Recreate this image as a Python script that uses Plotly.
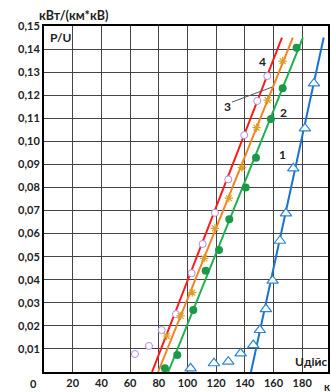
import plotly.graph_objects as go

# fitted lines (endpoints)
line4_x = [75.3, 165.9]
line4_y = [0.0, 0.145]
line3_x = [79.5, 173.5]
line3_y = [0.0, 0.145]
line2_x = [86.6, 180.5]
line2_y = [0.0, 0.145]
line1_x = [144.3, 195.0]
line1_y = [0.0, 0.145]

# measured points
pts4_x = [63.4, 73.2, 82.0, 92.0, 102.9, 110.6, 119.2, 128.5, 139.6, 148.7, 155.7]
pts4_y = [0.0078, 0.0113, 0.0182, 0.0251, 0.0428, 0.0555, 0.0690, 0.0835, 0.1027, 0.1175, 0.1283]
pts3_x = [85.5, 95.3, 103.4, 111.7, 119.2, 128.9, 138.0, 148.2, 155.9, 166.4]
pts3_y = [0.0156, 0.0243, 0.0344, 0.0493, 0.0623, 0.0754, 0.0886, 0.1059, 0.1179, 0.1348]
pts2_x = [84.3, 92.9, 104.1, 112.7, 122.0, 129.2, 140.6, 147.8, 158.2, 166.4, 176.1]
pts2_y = [0.0016, 0.0074, 0.0269, 0.0439, 0.0529, 0.0662, 0.0800, 0.0929, 0.1097, 0.1230, 0.1406]
pts1_x = [102.2, 118.5, 128.5, 137.1, 145.9, 150.5, 154.7, 159.4, 164.5, 168.7, 173.8, 181.9, 188.2]
pts1_y = [0.0016, 0.0038, 0.0045, 0.0081, 0.0117, 0.0182, 0.0273, 0.0396, 0.0569, 0.0688, 0.0883, 0.1056, 0.1251]

x_ticks = [20, 40, 60, 80, 100, 120, 140, 160, 180]
y_ticks = [0.01, 0.02, 0.03, 0.04, 0.05, 0.06, 0.07, 0.08, 0.09, 0.10, 0.11, 0.12, 0.13, 0.14, 0.15]
y_ticktext = ["0,01", "0,02", "0,03", "0,04", "0,05", "0,06", "0,07", "0,08", "0,09", "0,10",
              "0,11", "0,12", "0,13", "0,14", "0,15"]

FONT = "Lato"
W, H = 331, 392
L, R, T, B = 44, 3, 26, 20
pw, ph = W - L - R, H - T - B

RED = "#FF1A1A"
ORANGE = "#F58220"
GREEN = "#1DB24B"
BLUE = "#1874CD"

fig = go.Figure()
fig.add_trace(go.Scatter(x=line4_x, y=line4_y, mode="lines", line=dict(color=RED, width=2)))
fig.add_trace(go.Scatter(x=line3_x, y=line3_y, mode="lines", line=dict(color=ORANGE, width=2)))
fig.add_trace(go.Scatter(x=line2_x, y=line2_y, mode="lines", line=dict(color=GREEN, width=2)))
fig.add_trace(go.Scatter(x=line1_x, y=line1_y, mode="lines", line=dict(color=BLUE, width=2)))

fig.add_trace(go.Scatter(x=pts4_x, y=pts4_y, mode="markers",
                         marker=dict(symbol="circle", size=7, color="white",
                                     line=dict(color="#B08CDC", width=1))))
fig.add_trace(go.Scatter(x=pts3_x, y=pts3_y, mode="markers",
                         marker=dict(symbol="asterisk-open", size=7, color="#D9A024",
                                     line=dict(color="#D9A024", width=1.2))))
fig.add_trace(go.Scatter(x=pts2_x, y=pts2_y, mode="markers",
                         marker=dict(symbol="circle", size=8, color="#1A9A48",
                                     line=dict(color="#1A9A48", width=0))))
fig.add_trace(go.Scatter(x=pts1_x, y=pts1_y, mode="markers",
                         marker=dict(symbol="triangle-up", size=10, color="white",
                                     line=dict(color="#2E86D0", width=1.2))))

# leader line for label 3
fig.add_shape(type="line", x0=131, y0=0.117, x1=159, y1=0.1235,
              line=dict(color="#555555", width=1))

ann_font = dict(family=FONT, size=11, color="#222222")
labels = [("4", 152.6, 0.1348), ("3", 128.0, 0.1153), ("2", 167.3, 0.1127),
          ("1", 166.6, 0.0945), ("P/U", 11.5, 0.1448), ("Uдійс", 186.5, 0.0045)]
for t, x, y in labels:
    fig.add_annotation(x=x, y=y, text="<b>%s</b>" % t, showarrow=False,
                       font=dict(family=FONT, size=12, color="#222222"),
                       xref="x", yref="y", xanchor="center", yanchor="middle")


def pix_ann(text, px, py, anchor="center", size=11):
    fig.add_annotation(x=(px - L) / pw, y=1 - (py - T) / ph, xref="paper", yref="paper",
                       text="<b>%s</b>" % text, showarrow=False,
                       font=dict(family=FONT, size=size, color="#222222"),
                       xanchor=anchor, yanchor="middle")


pix_ann("кВт/(км*кВ)", 37, 15, anchor="left", size=12.5)
pix_ann("0", 33, 383)
pix_ann("к", 327, 386)

fig.update_layout(
    width=W, height=H,
    margin=dict(l=L, r=R, t=T, b=B, autoexpand=False),
    paper_bgcolor="white", plot_bgcolor="white",
    showlegend=False,
    font=dict(family=FONT, size=11, color="#222222"),
    xaxis=dict(range=[0, 198], tickvals=x_ticks, ticktext=["<b>%d</b>" % v for v in x_ticks],
               showgrid=True, gridcolor="#444444", gridwidth=1, zeroline=False,
               showline=True, linecolor="black", linewidth=2, mirror=True,
               ticks="", ticklen=0, automargin=False),
    yaxis=dict(range=[0, 0.15], tickvals=y_ticks, ticktext=["<b>%s</b>" % s for s in y_ticktext],
               showgrid=True, gridcolor="#444444", gridwidth=1, zeroline=False,
               showline=True, linecolor="black", linewidth=2, mirror=True,
               ticks="", ticklen=0, automargin=False),
)

fig.write_html("out.html", config={"displayModeBar": False},
               post_script="document.body.style.margin='0';")
